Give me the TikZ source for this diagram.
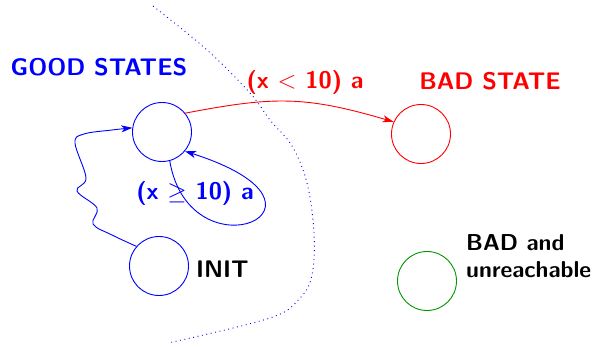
\documentclass[tikz,border=0pt]{standalone}
\usetikzlibrary{arrows.meta}
\definecolor{goodblue}{RGB}{0,0,255}
\definecolor{badred}{RGB}{255,0,0}
\definecolor{unreachgreen}{RGB}{0,150,0}
\begin{document}
\begin{tikzpicture}[x=1pt,y=1pt,
  statecirc/.style={circle,draw,line width=0.9pt,minimum size=59pt,inner sep=0pt},
  lbl/.style={font=\fontsize{24}{28}\selectfont\sffamily\bfseries,inner sep=0pt},
  tip/.style={-{Stealth[length=11pt,width=7pt,inset=3pt]}},
  edge/.style={line width=0.9pt,tip}]
\useasboundingbox (0,0) rectangle (607,346);
% boundary
\draw[goodblue,line width=0.9pt,dash pattern=on 0.9pt off 3.6pt]
  plot[smooth,tension=0.6] coordinates {(153,340) (207,296) (250,253) (270,226) (292,200) (307,163) (314,113) (312,71) (300,48) (270,28) (168,3)};
% states
\node[statecirc,goodblue] (good) at (162,214) {};
\node[statecirc,goodblue] (init) at (159,80) {};
\node[statecirc,badred] (bad) at (421,212) {};
\node[statecirc,unreachgreen] (unr) at (427,65) {};
% labels
\node[lbl,goodblue] (goodlbl) at (99,279) {GOOD STATES};
\node[lbl,badred] (badlbl) at (490,265) {BAD STATE};
\node[lbl,anchor=west] (initlbl) at (196,77) {INIT};
\node[font=\fontsize{23}{27}\selectfont\sffamily\bfseries,align=left,anchor=west,inner sep=0pt] (unrlbl) at (466,89.5) {BAD and\\unreachable};
% edges
\draw[edge,badred] (good.39) .. controls (275,250) and (305,250) .. (bad.156);
\node[lbl,badred] (ltlbl) at (305,263) {(x $<$ 10) a};
\draw[edge,goodblue] (good.-75) .. controls (190,66) and (360,139) .. (good.-40);
\node[lbl,goodblue] (gelbl) at (195,153) {(x $\geq$ 10) a};
\draw[edge,goodblue] plot[smooth,tension=0.6] coordinates {(init.139) (112,111) (93,122) (97,138) (77,155) (86,168) (75,203) (84,212) (112,216) (good.172)};
\end{tikzpicture}
\end{document}
